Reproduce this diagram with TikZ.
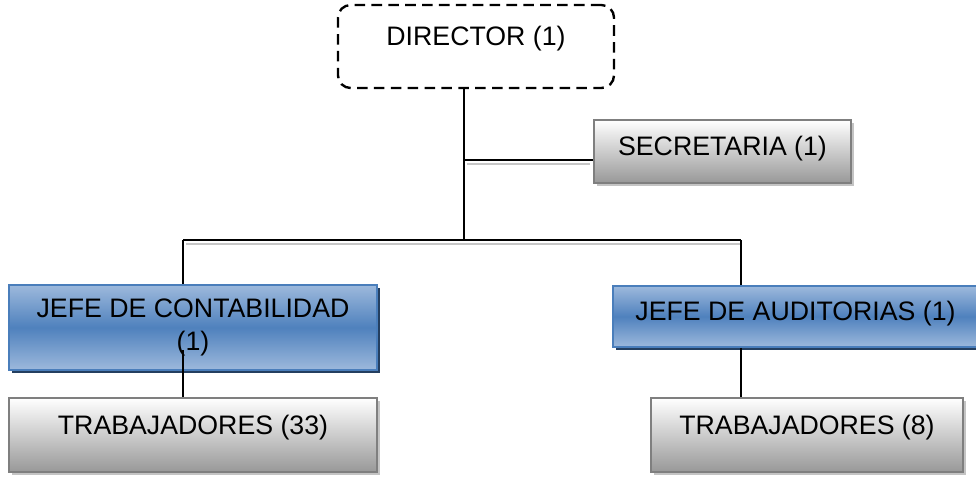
\documentclass[tikz,border=0pt]{standalone}
\usepackage{fontspec}
\setmainfont{Liberation Sans}
\usetikzlibrary{calc,shadows}
\definecolor{grayline}{HTML}{7F7F7F}
\definecolor{grayshade}{HTML}{989898}
\definecolor{grayshadow}{HTML}{C4C4C4}
\definecolor{blueline}{HTML}{4A7EBB}
\definecolor{bluelight}{HTML}{9DB9DC}
\definecolor{bluemid}{HTML}{4F81BD}
\definecolor{blueshadow}{HTML}{243F60}

\begin{document}
\begin{tikzpicture}[x=0.025cm, y=-0.025cm,
    font=\fontsize{19}{23}\selectfont,
    graybox/.style={draw=grayline, line width=1.3pt, top color=white, bottom color=grayshade,
        general shadow={fill=grayshadow, shadow xshift=2.2pt, shadow yshift=-2.2pt}},
    bluebox/.style={draw=blueline, line width=1.3pt, top color=bluelight, bottom color=bluelight, middle color=bluemid,
        general shadow={fill=blueshadow, shadow xshift=2.2pt, shadow yshift=-2.2pt}},
    dirbox/.style={draw, line width=1.7pt, dash pattern=on 7.5pt off 4.5pt, rounded corners=9pt},
    hightext/.style={text height=13pt, text depth=14pt},
    midtext/.style={text height=13pt, text depth=7pt},
    conn/.style={line width=1.3pt},
    shline/.style={line width=1.4pt, gray!45}]
    \useasboundingbox (0,0) rectangle (976,476);

    % Boxes
    \node[dirbox, hightext, minimum width=6.9cm, minimum height=2.075cm] (dir) at (476,46.5) {DIRECTOR (1)};
    \node[graybox, midtext, minimum width=6.425cm, minimum height=1.575cm] (sec) at (722.5,151.5) {SECRETARIA (1)};
    \node[bluebox, align=center, minimum width=9.2cm, minimum height=2.125cm] (jc) at (193,327.5) {JEFE DE CONTABILIDAD\\(1)};
    \node[bluebox, midtext, minimum width=9.125cm, minimum height=1.525cm] (ja) at (795.5,316.5) {JEFE DE AUDITORIAS (1)};
    \node[graybox, hightext, minimum width=9.2cm, minimum height=1.85cm] (tc) at (193,435) {TRABAJADORES (33)};
    \node[graybox, hightext, minimum width=7.8cm, minimum height=1.85cm] (tr) at (807,435) {TRABAJADORES (8)};

    % Branch points
    \coordinate (barM) at (464,240);
    \coordinate (barL) at (183,240);
    \coordinate (barR) at (741,240);
    \coordinate (secL) at (464,160);
    \coordinate (jcL) at (183,350);

    % Shadow lines
    \draw[shline] ($(barL)+(3,4)$) -- ($(barR)+(0,4)$);
    \draw[shline] ($(secL)+(3,4)$) -- ($(secL -| sec.west)+(-3,4)$);

    % Connectors
    \draw[conn] (dir.south -| barM) -- (barM);
    \draw[conn] (secL) -- (secL -| sec.west);
    \draw[conn] (barL) -- (barR);
    \draw[conn] (barL) -- (barL |- jc.north);
    \draw[conn] (barR) -- (barR |- ja.north);
    \draw[conn] (jcL) -- (jcL |- tc.north);
    \draw[conn] (barR |- ja.south) -- (barR |- tr.north);
\end{tikzpicture}
\end{document}
